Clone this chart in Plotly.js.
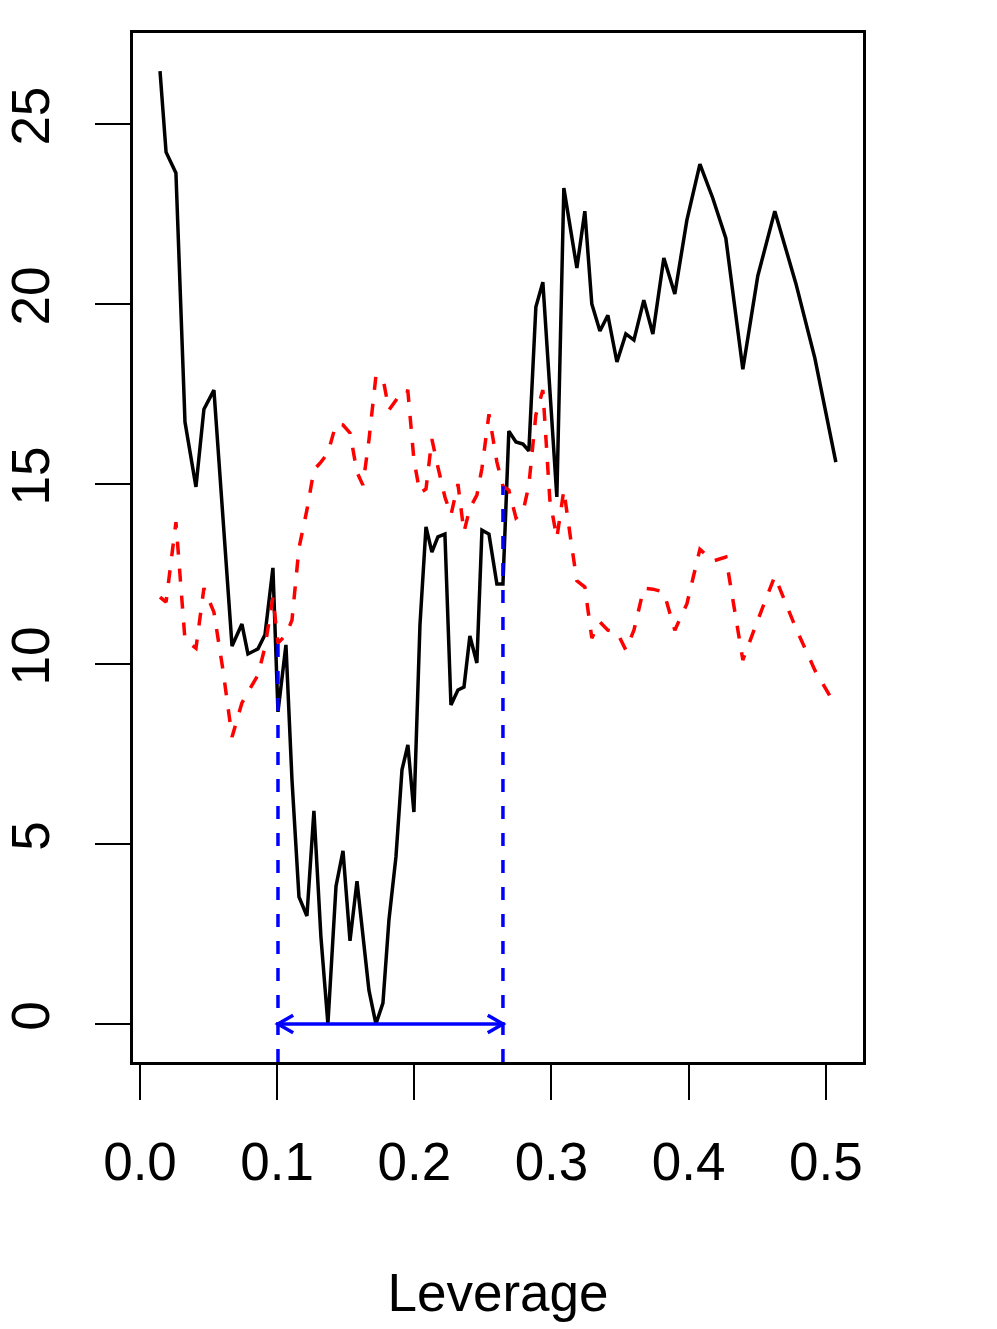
<!DOCTYPE html>
<html>
<head>
<meta charset="utf-8">
<script src="https://cdn.plot.ly/plotly-3.0.1.min.js"></script>
<style>
  html, body { margin: 0; padding: 0; background: #fff; }
  #grafica { width: 997px; height: 1329px; }
</style>
</head>
<body>
<div id="grafica"></div>
<script>
// ---------- datos ----------
const leverage = [
  0.0146, 0.0190, 0.0262, 0.0328, 0.0408, 0.0466, 0.0539, 0.0605, 0.0671, 0.0743,
  0.0787, 0.0860, 0.0911, 0.0969, 0.1006, 0.1064, 0.1108, 0.1159, 0.1217, 0.1268,
  0.1319, 0.1370, 0.1429, 0.1480, 0.1531, 0.1582, 0.1625, 0.1669, 0.1720, 0.1771,
  0.1815, 0.1866, 0.1910, 0.1953, 0.1997, 0.2041, 0.2085, 0.2128, 0.2172, 0.2223,
  0.2267, 0.2318, 0.2362, 0.2405, 0.2456, 0.2493, 0.2544, 0.2602, 0.2646, 0.2689,
  0.2741, 0.2792, 0.2835, 0.2886, 0.2937, 0.2988, 0.3039, 0.3090, 0.3141, 0.3185,
  0.3243, 0.3294, 0.3353, 0.3411, 0.3477, 0.3542, 0.3601, 0.3673, 0.3739, 0.3819,
  0.3899, 0.3987, 0.4082, 0.4176, 0.4271, 0.4395, 0.4504, 0.4628, 0.4781, 0.4920,
  0.5073
];

const serieNegra = [
  26.47, 24.22, 23.64, 16.72, 14.92, 17.08, 17.61, 14.06, 10.50, 11.11,
  10.28, 10.42, 10.81, 12.67, 8.67, 10.53, 6.78, 3.53, 3.00, 5.92,
  2.42, 0.00, 3.83, 4.81, 2.31, 3.97, 2.53, 0.94, 0.00, 0.58,
  2.89, 4.64, 7.06, 7.75, 5.89, 11.08, 13.81, 13.11, 13.53, 13.61,
  8.86, 9.28, 9.36, 10.78, 10.03, 13.72, 13.61, 12.22, 12.22, 16.47,
  16.17, 16.11, 15.92, 19.92, 20.61, 17.47, 14.64, 23.22, 22.00, 21.00,
  22.58, 20.00, 19.25, 19.69, 18.39, 19.17, 19.00, 20.11, 19.17, 21.28,
  20.28, 22.33, 23.89, 22.94, 21.83, 18.19, 20.78, 22.58, 20.58, 18.50,
  15.61
];

const serieRoja = [
  11.86, 11.72, 13.94, 10.67, 10.44, 12.11, 11.44, 9.83, 7.97, 8.92,
  9.22, 9.69, 10.47, 11.86, 10.58, 10.81, 11.22, 13.22, 14.28, 15.39,
  15.61, 15.86, 16.67, 16.64, 16.42, 15.33, 14.97, 16.22, 18.00, 17.94,
  17.06, 17.33, 17.61, 17.58, 15.67, 14.75, 14.86, 16.25, 15.47, 14.64,
  14.14, 15.00, 13.67, 14.33, 14.69, 15.44, 16.94, 15.61, 14.94, 14.83,
  14.06, 14.22, 14.97, 16.92, 17.61, 14.56, 13.50, 14.83, 13.44, 12.31,
  12.14, 10.72, 11.17, 10.94, 10.89, 10.39, 10.94, 12.11, 12.08, 12.00,
  10.94, 11.67, 13.19, 12.86, 12.97, 10.11, 11.22, 12.44, 11.00, 9.83,
  8.83
];

// intervalo marcado en azul (índices dentro de leverage)
const limitesIntervalo = [14, 48];
const nivelFlecha = 0;

const ticksX = [0, 0.1, 0.2, 0.3, 0.4, 0.5];
const textosX = ["0.0", "0.1", "0.2", "0.3", "0.4", "0.5"];
const ticksY = [0, 5, 10, 15, 20, 25];

// ---------- ejes ----------
const rangoX = [-0.0051, 0.5271];
const rangoY = [-1.056, 27.53];

const ancho = 997, alto = 1329;
const margen = {l: 133, r: 134, t: 33, b: 267};
const pxPorX = (ancho - margen.l - margen.r) / (rangoX[1] - rangoX[0]);
const pxPorY = (alto - margen.t - margen.b) / (rangoY[1] - rangoY[0]);

// ---------- trazas ----------
const curvaNegra = {
  x: leverage, y: serieNegra, mode: "lines", type: "scatter",
  line: {color: "black", width: 3.5}, hoverinfo: "skip"
};

const curvaRoja = {
  x: leverage, y: serieRoja, mode: "lines", type: "scatter",
  line: {color: "#ff0000", width: 3.5, dash: "13px,14px"}, hoverinfo: "skip"
};

// líneas verticales azules hasta la curva roja
let vx = [], vy = [];
limitesIntervalo.forEach(i => {
  vx.push(leverage[i], leverage[i], null);
  vy.push(rangoY[0], serieRoja[i], null);
});
const verticales = {
  x: vx, y: vy, mode: "lines", type: "scatter",
  line: {color: "#0000ff", width: 3.5, dash: "13px,14px"}, hoverinfo: "skip"
};

// flecha doble
const xa = leverage[limitesIntervalo[0]];
const xb = leverage[limitesIntervalo[1]];
const puntaX = 15.2 / pxPorX;
const puntaY = 8.8 / pxPorY;
const flecha = {
  x: [xa, xb, null,
      xa + puntaX, xa, xa + puntaX, null,
      xb - puntaX, xb, xb - puntaX],
  y: [nivelFlecha, nivelFlecha, null,
      nivelFlecha + puntaY, nivelFlecha, nivelFlecha - puntaY, null,
      nivelFlecha + puntaY, nivelFlecha, nivelFlecha - puntaY],
  mode: "lines", type: "scatter",
  line: {color: "#0000ff", width: 3.5}, hoverinfo: "skip"
};

const fuente = {family: "Liberation Sans, Arial, Helvetica, sans-serif", size: 53, color: "black"};

Plotly.newPlot("grafica", [curvaNegra, curvaRoja, verticales, flecha], {
  width: ancho, height: alto,
  margin: margen,
  paper_bgcolor: "white", plot_bgcolor: "white",
  showlegend: false,
  font: fuente,
  xaxis: {
    range: rangoX, tickvals: ticksX, ticktext: textosX,
    ticks: "outside", ticklen: 35, tickwidth: 2, tickcolor: "black",
    showline: true, mirror: true, linewidth: 3, linecolor: "black",
    showgrid: false, zeroline: false, tickfont: fuente,
    ticklabelstandoff: 16,
    title: {text: "Leverage", font: fuente, standoff: 85},
    automargin: false
  },
  yaxis: {
    range: rangoY, tickvals: ticksY,
    ticks: "outside", ticklen: 35, tickwidth: 2, tickcolor: "black",
    showline: true, mirror: true, linewidth: 3, linecolor: "black",
    showgrid: false, zeroline: false, tickfont: fuente, tickangle: -90,
    ticklabelstandoff: 25,
    automargin: false
  }
}, {staticPlot: true});
</script>
</body>
</html>
